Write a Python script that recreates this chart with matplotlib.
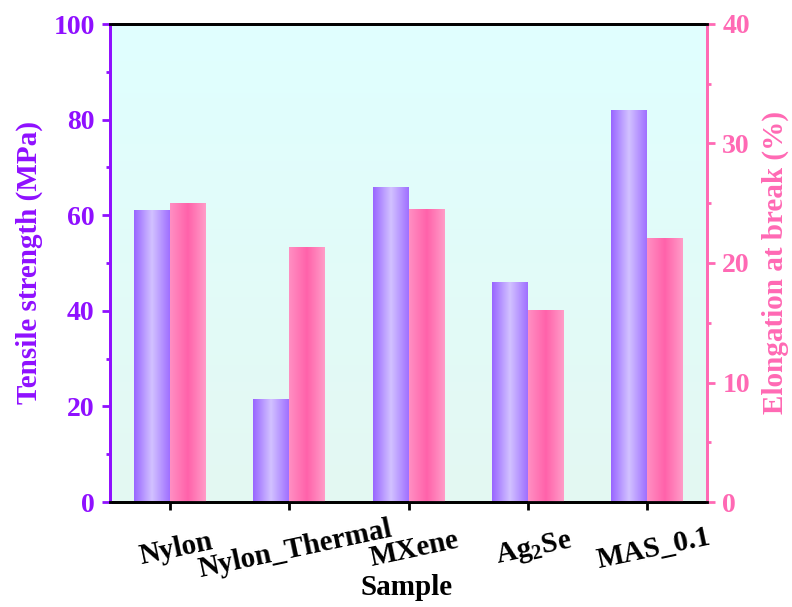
import numpy as np
import matplotlib
matplotlib.use("Agg")
import matplotlib.pyplot as plt
from matplotlib.colors import LinearSegmentedColormap
from matplotlib.ticker import MultipleLocator

plt.rcParams['font.family'] = 'Liberation Serif'
plt.rcParams['font.weight'] = 'bold'
plt.rcParams['axes.labelweight'] = 'bold'
plt.rcParams['mathtext.fontset'] = 'custom'
plt.rcParams['mathtext.rm'] = 'Liberation Serif:bold'
plt.rcParams['mathtext.bf'] = 'Liberation Serif:bold'

samples = ['Nylon', 'Nylon_Thermal', 'MXene', r'Ag$_{\mathbf{2}}$Se', 'MAS_0.1']
tensile = [61, 21.5, 66, 46, 82]          # MPa
elongation = [25.0, 21.3, 24.5, 16.1, 22.1]  # %

purple = '#8f10ff'
pink = '#ff69b4'

fig = plt.figure(figsize=(7.92, 6.07), dpi=100)
ax = fig.add_axes([110 / 792, 1 - 502 / 607, 597 / 792, 478 / 607])
ax2 = ax.twinx()

# background gradient (light cyan -> mint)
bg = LinearSegmentedColormap.from_list('bg', ['#e4f8f2', '#e0ffff'])
ax.imshow(np.linspace(0, 1, 256).reshape(-1, 1), cmap=bg, origin='lower',
          extent=[0, 1, 0, 1], transform=ax.transAxes, aspect='auto', zorder=0)

cm_p = LinearSegmentedColormap.from_list('p', ['#9966ff', '#d2c2ff', '#a070ff'])
cm_k = LinearSegmentedColormap.from_list('k', ['#ff8fc2', '#ff62aa', '#ff9cc8'])

x = np.arange(len(samples))
w = 0.3


def grad_bars(axis, xs, vals, cmap):
    bars = axis.bar(xs, vals, w, facecolor='none', edgecolor='none', zorder=2)
    for b in bars:
        x0, y0 = b.get_x(), b.get_y()
        im = axis.imshow(np.linspace(0, 1, 64).reshape(1, -1), cmap=cmap,
                         extent=[x0, x0 + b.get_width(), y0, y0 + b.get_height()],
                         aspect='auto', zorder=2)
        im.set_clip_path(b)


grad_bars(ax, x - w / 2, tensile, cm_p)
grad_bars(ax2, x + w / 2, elongation, cm_k)

ax.set_xlim(-0.5, 4.5)
ax.set_ylim(0, 100)
ax2.set_ylim(0, 40)

ax.yaxis.set_major_locator(MultipleLocator(20))
ax.yaxis.set_minor_locator(MultipleLocator(10))
ax2.yaxis.set_major_locator(MultipleLocator(10))
ax2.yaxis.set_minor_locator(MultipleLocator(5))

# x labels: rotated about their centre, all centres on one line
ax.set_xticks(x)
ax.set_xticklabels([])
for xi, name in zip(x, samples):
    ax.text(xi + 0.05, -0.098, name, transform=ax.get_xaxis_transform(),
            rotation=12, rotation_mode='anchor', ha='center', va='center',
            fontsize=21, fontweight='bold')

for a in (ax, ax2):
    for s in a.spines.values():
        s.set_linewidth(2)
    a.spines['top'].set_color('black')
    a.spines['bottom'].set_color('black')
    a.spines['left'].set_color(purple)
    a.spines['right'].set_color(pink)

ax.tick_params(axis='x', direction='out', length=6, width=2, color='black')
ax.tick_params(axis='y', which='major', direction='out', length=6, width=2,
               colors=purple, labelsize=20, pad=5)
ax.tick_params(axis='y', which='minor', direction='out', length=3, width=2,
               color=purple)
ax2.tick_params(axis='y', which='major', direction='out', length=6, width=2,
                colors=pink, labelsize=20, pad=5)
ax2.tick_params(axis='y', which='minor', direction='out', length=3, width=2,
                color=pink)

ax.set_ylabel('Tensile strength (MPa)', color=purple, fontsize=21)
ax.yaxis.set_label_coords(-0.112, 0.5)
ax2.set_ylabel('Elongation at break (%)', color=pink, fontsize=21, rotation=90)
ax2.yaxis.set_label_coords(1.092, 0.5)
ax.set_xlabel('Sample', fontsize=21)
ax.xaxis.set_label_coords(0.497, -0.178)
ax.xaxis.label.set_va('center')

fig.savefig('out.png', dpi=100)
